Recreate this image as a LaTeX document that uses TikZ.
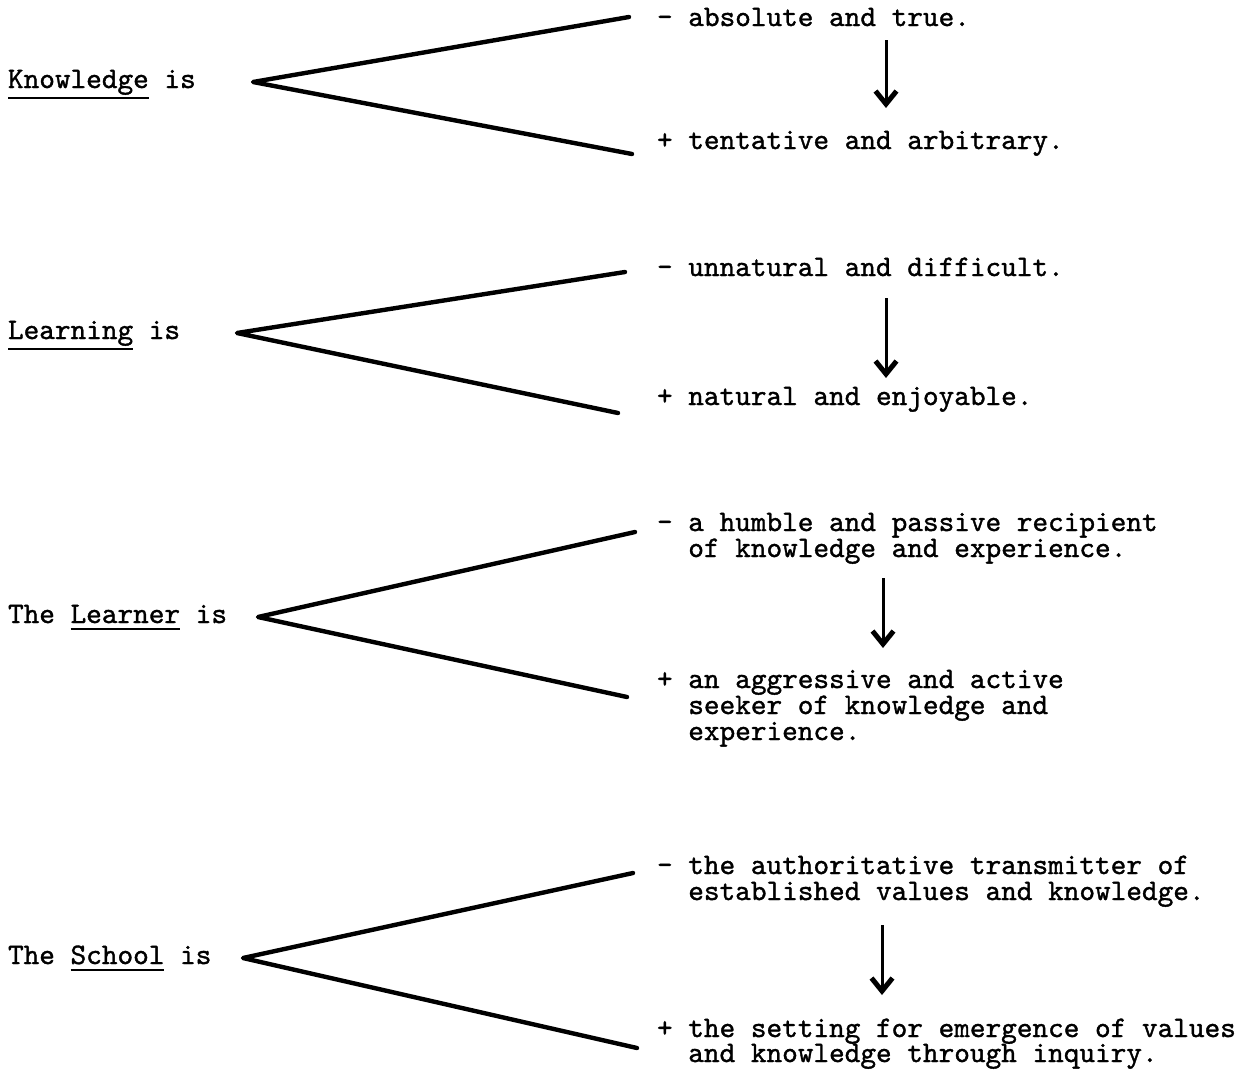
\documentclass[tikz,border=0pt]{standalone}
\usepackage{fontspec}
\newfontfamily\typew{lmmono10-regular.otf}[FakeBold=1.2]
\usetikzlibrary{arrows.meta}
\begin{document}
\begin{tikzpicture}[x=1pt,y=-1pt,
  tw/.style={font=\typew\fontsize{29.8}{26}\selectfont, anchor=base west, inner sep=0pt, outer sep=0pt},
  branch/.style={line width=4.4pt, line cap=round, line join=round},
  flow/.style={line width=3pt, -{Straight Barb[length=13pt,width=21pt,line width=5pt]}},
  uline/.style={line width=1.8pt}]
\useasboundingbox[fill=white] (0,0) rectangle (1249,1069);

% ---------- Knowledge ----------
\node[tw] (kw) at (8,88) {Knowledge};
\node[tw] (kis) at (kw.base east) {\ is};
\draw[uline] ([yshift=-10pt]kw.base west) -- ([yshift=-10pt]kw.base east);
\coordinate (kv) at (253,82);
\coordinate (ku) at (629,17);
\coordinate (kd) at (632,154);
\draw[branch] (ku) -- (kv) -- (kd);
\node[tw] (km) at (657,26) {- absolute and true.};
\node[tw] (kp) at (657,149) {+ tentative and arbitrary.};
\coordinate (ka1) at (886,40);
\coordinate (ka2) at (886,108);
\draw[flow] (ka1) -- (ka2);

% ---------- Learning ----------
\node[tw] (lw) at (8,339) {Learning};
\node[tw] (lis) at (lw.base east) {\ is};
\draw[uline] ([yshift=-10pt]lw.base west) -- ([yshift=-10pt]lw.base east);
\coordinate (lv) at (237,333);
\coordinate (lu) at (625,272);
\coordinate (ld) at (618,413);
\draw[branch] (lu) -- (lv) -- (ld);
\node[tw] (lm) at (657,276) {- unnatural and difficult.};
\node[tw] (lp) at (657,405) {+ natural and enjoyable.};
\coordinate (la1) at (886,298);
\coordinate (la2) at (886,378);
\draw[flow] (la1) -- (la2);

% ---------- The Learner ----------
\node[tw] (rt) at (8,623) {The};
\node[tw] (rw) at ([xshift=15.65pt]rt.base east) {Learner};
\node[tw] (ris) at (rw.base east) {\ is};
\draw[uline] ([yshift=-6pt]rw.base west) -- ([yshift=-6pt]rw.base east);
\coordinate (rv) at (258,617);
\coordinate (ru) at (635,532);
\coordinate (rd) at (627,697);
\draw[branch] (ru) -- (rv) -- (rd);
\node[tw] (rm1) at (657,531) {- a humble and passive recipient};
\node[tw] (rm2) at (688.3,557) {of knowledge and experience.};
\node[tw] (rp1) at (657,688) {+ an aggressive and active};
\node[tw] (rp2) at (688.3,714) {seeker of knowledge and};
\node[tw] (rp3) at (688.3,740) {experience.};
\coordinate (ra1) at (883,578);
\coordinate (ra2) at (883,648);
\draw[flow] (ra1) -- (ra2);

% ---------- The School ----------
\node[tw] (st) at (8,964) {The};
\node[tw] (sw) at ([xshift=15.65pt]st.base east) {School};
\node[tw] (sis) at (sw.base east) {\ is};
\draw[uline] ([yshift=-6pt]sw.base west) -- ([yshift=-6pt]sw.base east);
\coordinate (sv) at (243,958);
\coordinate (su) at (633,873);
\coordinate (sd) at (637,1048);
\draw[branch] (su) -- (sv) -- (sd);
\node[tw] (sm1) at (657,874) {- the authoritative transmitter of};
\node[tw] (sm2) at (688.3,900) {established values and knowledge.};
\node[tw] (sp1) at (657,1037) {+ the setting for emergence of values};
\node[tw] (sp2) at (688.3,1062) {and knowledge through inquiry.};
\coordinate (sa1) at (882,925);
\coordinate (sa2) at (882,995);
\draw[flow] (sa1) -- (sa2);
\end{tikzpicture}
\end{document}
